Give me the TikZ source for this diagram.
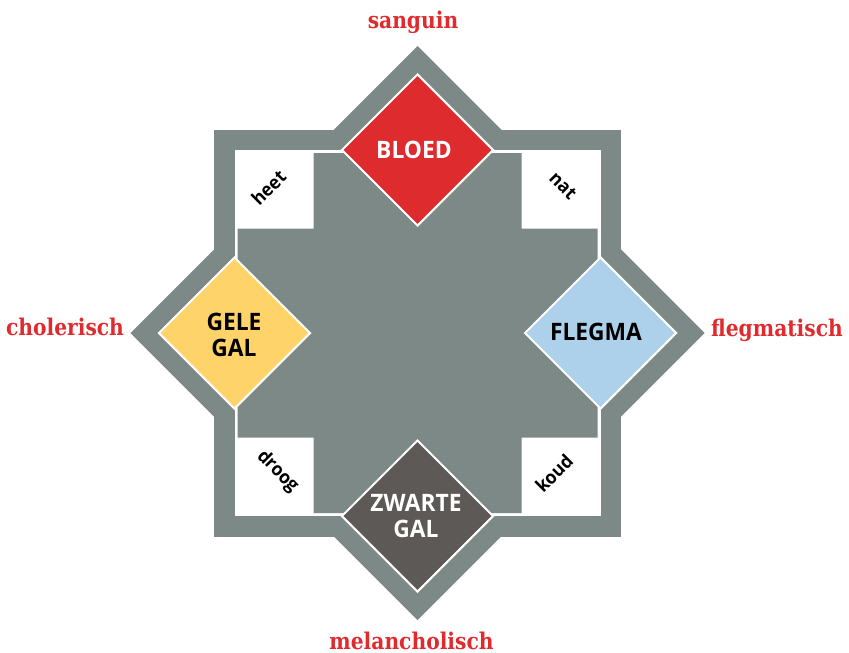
\documentclass[tikz,border=0pt]{standalone}
\usepackage{fontspec}
\setmainfont{Open Sans}
\newfontfamily\fluidfont[FakeStretch=0.95]{Open Sans}
\newfontfamily\humourfont[FakeStretch=0.88]{DejaVu Serif}
\usetikzlibrary{shapes.geometric}

\definecolor{framegray}{RGB}{125,137,134}
\definecolor{humourred}{RGB}{224,42,46}
\definecolor{bloodred}{RGB}{222,43,45}
\definecolor{bileyellow}{RGB}{254,212,106}
\definecolor{phlegmblue}{RGB}{173,208,235}
\definecolor{blackbile}{RGB}{93,89,86}

\tikzset{
  humour/.style={font=\humourfont\bfseries\fontsize{23}{27}\selectfont, text=humourred, anchor=base, inner sep=0pt},
  fluid/.style={font=\fluidfont\bfseries\fontsize{24}{26}\selectfont, align=center, inner sep=0pt},
  quality/.style={font=\fluidfont\bfseries\fontsize{18.5}{20}\selectfont, inner sep=0pt},
  gem/.style={shape=diamond, minimum size=152pt, inner sep=0pt, draw=white, line width=2pt}
}

\begin{document}
\begin{tikzpicture}[x=1pt,y=-1pt]
  \path[use as bounding box] (0,0) rectangle (849,653);

  % centre of the star
  \coordinate (c) at (417.5,333);

  % eight-pointed star: upright square plus square turned by 45 degrees
  \fill[framegray] (214,129.5) rectangle (621,536.5);
  \fill[framegray] (417.5,46) -- (704.5,333) -- (417.5,620) -- (130.5,333) -- cycle;

  % inner star, 20 units in from the outline
  \fill[white] (234.5,150) rectangle (600.5,516);
  \fill[white] (417.5,74.3) -- (676.2,333) -- (417.5,591.7) -- (158.8,333) -- cycle;

  % grey cross between the four white corner boxes
  \fill[framegray] (313.5,153) -- (521.5,153) -- (521.5,228.5) -- (597.5,228.5)
    -- (597.5,437.5) -- (521.5,437.5) -- (521.5,513) -- (313.5,513)
    -- (313.5,437.5) -- (237.5,437.5) -- (237.5,228.5) -- (313.5,228.5) -- cycle;

  % the four humours as diamonds
  \node[gem, fill=bloodred]   (bloed)  at (417.5,150) {};
  \node[gem, fill=bileyellow] (gele)   at (234.5,333) {};
  \node[gem, fill=phlegmblue] (flegma) at (600.5,333) {};
  \node[gem, fill=blackbile]  (zwarte) at (417.5,516) {};

  \node[fluid, text=white] (tbloed)  at (414,150)   {BLOED};
  \node[fluid, text=black] (tgele)   at (234,334.5) {GELE\\GAL};
  \node[fluid, text=black] (tflegma) at (596,332)   {FLEGMA};
  \node[fluid, text=white] (tzwarte) at (416,516.5) {ZWARTE\\GAL};

  % qualities in the corner boxes
  \node[quality, rotate=45]  (heet)  at (268.5,187.5) {heet};
  \node[quality, rotate=-45] (nat)   at (563,186)     {nat};
  \node[quality, rotate=-45] (droog) at (277.5,471.5) {droog};
  \node[quality, rotate=45]  (koud)  at (554,473)     {koud};

  % temperaments
  \node[humour] (sanguin)       at (413,28.5)  {sanguin};
  \node[humour] (cholerisch)    at (65,335)    {cholerisch};
  \node[humour] (flegmatisch)   at (777,336)   {flegmatisch};
  \node[humour] (melancholisch) at (411.5,649) {melancholisch};
\end{tikzpicture}
\end{document}
